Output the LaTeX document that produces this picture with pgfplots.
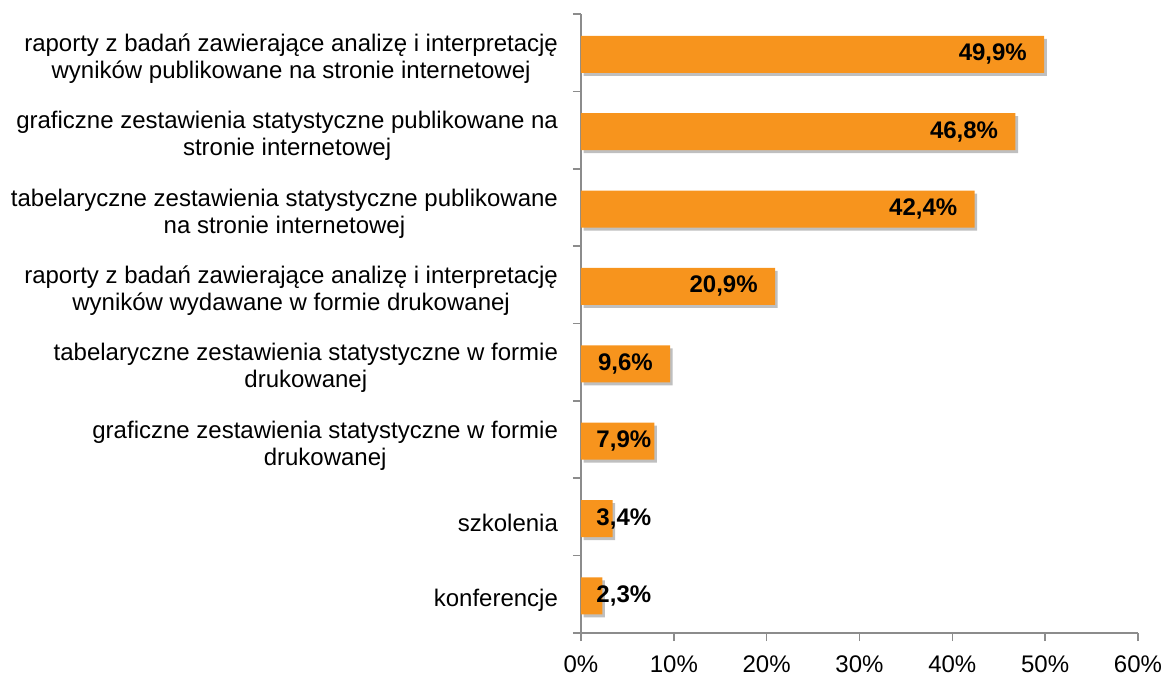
\documentclass[border=0pt]{standalone}
\usepackage{pgfplots}
\pgfplotsset{compat=1.18}
\usepackage{pgfplotstable}
\usepackage{fontspec}
\setmainfont{Liberation Sans}
\definecolor{barorange}{HTML}{F7941D}
\definecolor{axisgray}{HTML}{8C8C8C}
\pgfplotstableread{
y v lab
0 2.3 {2,3\%}
1 3.4 {3,4\%}
2 7.9 {7,9\%}
3 9.6 {9,6\%}
4 20.9 {20,9\%}
5 42.4 {42,4\%}
6 46.8 {46,8\%}
7 49.9 {49,9\%}
}\data
\begin{document}
\begin{tikzpicture}
\begin{axis}[
  scale only axis,
  width=278.5pt, height=309.5pt,
  xmin=0, xmax=60, ymin=-0.5, ymax=7.5,
  enlargelimits=false,
  clip=false,
  axis lines*=left,
  axis line style={axisgray, line width=0.8pt},
  tick style={axisgray, line width=0.8pt},
  tick align=outside,
  xtick={0,10,...,60},
  xticklabels={0\%,10\%,20\%,30\%,40\%,50\%,60\%},
  x tick label style={font=\fontsize{12}{13.5}\selectfont, yshift=-4pt},
  ytick={0,...,7},
  yticklabels={
    {konferencje},
    {szkolenia},
    {graficzne zestawienia statystyczne w formie\\drukowanej},
    {tabelaryczne zestawienia statystyczne w formie\\drukowanej},
    {raporty z badań zawierające analizę i interpretację\\wyników wydawane w formie drukowanej},
    {tabelaryczne zestawienia statystyczne publikowane\\na stronie internetowej},
    {graficzne zestawienia statystyczne publikowane na\\stronie internetowej},
    {raporty z badań zawierające analizę i interpretację\\wyników publikowane na stronie internetowej}},
  major y tick style={draw=none},
  y tick label style={font=\fontsize{12}{13.5}\selectfont, align=center, xshift=-4pt, yshift=-3pt},
  minor ytick={-0.5,0.5,...,7.5},
  minor tick length=4pt,
  major tick length=4pt,
  xbar,
  bar width=18.5pt,
  bar shift=-0.8pt,
  point meta=explicit symbolic,
  visualization depends on={x \as \val},
  nodes near coords={\pgfplotspointmeta},
  every node near coord/.append style={font=\fontsize{12}{13.5}\selectfont\bfseries, anchor=east, inner sep=0pt, xshift={max(-8.5, 35.3-\val*4.6417)}},
]
\addplot[fill=barorange, draw=none,
  preaction={fill=black, opacity=0.25, transform canvas={xshift=1.3pt, yshift=-1.5pt}}]
  table[x=v, y=y, meta=lab] {\data};
\end{axis}
\pgfresetboundingbox
\path ([shift={(-290.5pt,-23pt)}]current axis.south west) rectangle ([shift={(292pt,316.5pt)}]current axis.south west);
\end{tikzpicture}
\end{document}
